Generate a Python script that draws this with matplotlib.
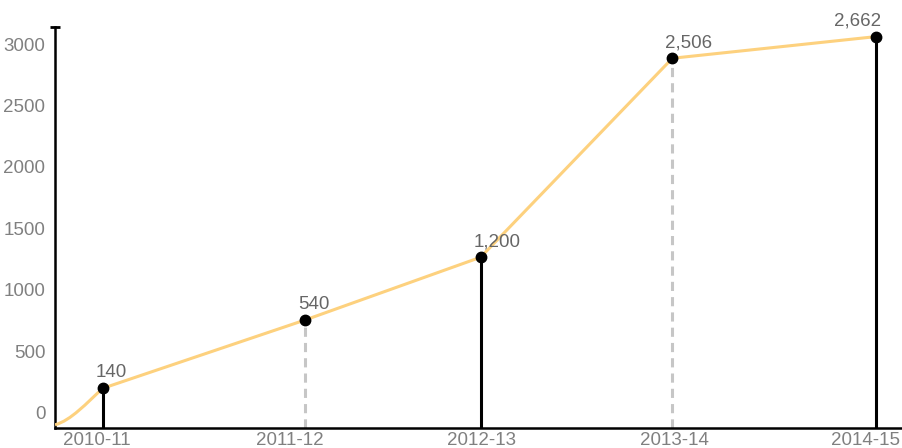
import matplotlib
matplotlib.use('Agg')
import matplotlib.pyplot as plt
from matplotlib.path import Path
from matplotlib.patches import PathPatch

# data (x in "years" from the first point, y)
years = ['2010-11', '2011-12', '2012-13', '2013-14', '2014-15']
point_x = [0.0, 1.0, 1.868, 2.816, 3.821]
point_y = [197, 753, 1264, 2884, 3060]
value_labels = ['140', '540', '1,200', '2,506', '2,662']
stem_dashed = [False, True, False, True, False]
tick_x = [-0.031, 0.926, 1.872, 2.824, 3.769]
start_x, start_y = -0.2358, -100

plt.rcParams['font.family'] = ['Liberation Sans', 'DejaVu Sans']


def line_path(x0, y0, xs, ys):
    # eased first segment (gentle start), straight segments after that
    chord = (ys[0] - y0) / (xs[0] - x0)
    dx = (xs[0] - x0) / 3
    verts = [(x0, y0), (x0 + dx, y0 + dx * 0.35 * chord),
             (xs[0] - dx, ys[0] - dx * 1.2 * chord), (xs[0], ys[0])]
    codes = [Path.MOVETO, Path.CURVE4, Path.CURVE4, Path.CURVE4]
    for x, y in zip(xs[1:], ys[1:]):
        verts.append((x, y))
        codes.append(Path.LINETO)
    return Path(verts, codes)


fig = plt.figure(figsize=(9.03, 4.48), dpi=100)
ax = fig.add_axes([55 / 903, 1 - 428 / 448, 848 / 903, 400.7 / 448])

ylo, yhi = -126, 3136
ax.set_xlim(-0.2358, 3.956)
ax.set_ylim(ylo, yhi)

# stems
for x, y, dashed in zip(point_x, point_y, stem_dashed):
    if dashed:
        ax.plot([x, x], [ylo, y], color='#c6c6c6', lw=2.2, dashes=(3, 2), zorder=2)
    else:
        ax.plot([x, x], [ylo, y], color='black', lw=2.2, zorder=2)

# line
path = line_path(start_x, start_y, point_x, point_y)
ax.add_patch(PathPatch(path, facecolor='none', edgecolor='#fdd17e', lw=2.2,
                       joinstyle='round', zorder=3))

ax.plot(point_x, point_y, 'o', color='black', ms=7.5, zorder=4)

for i, (x, y, lab) in enumerate(zip(point_x, point_y, value_labels)):
    dx = -7 if i < len(point_x) - 1 else -42
    ax.annotate(lab, (x, y), xytext=(dx, 11), textcoords='offset pixels',
                ha='left', va='baseline', fontsize=13.5, color='#666666')

# axes styling
for side in ['top', 'right']:
    ax.spines[side].set_visible(False)
for side in ['left', 'bottom']:
    ax.spines[side].set_linewidth(1.8)

ax.set_yticks(range(0, 3001, 500))
ax.set_xticks(tick_x, years)
ax.tick_params(axis='both', which='major', length=0, labelsize=13.5, labelcolor='#808080')
ax.tick_params(axis='y', pad=7)
ax.tick_params(axis='x', pad=3)
ax.set_yticks([yhi], minor=True)
ax.tick_params(axis='y', which='minor', length=7, width=2, direction='inout')

fig.savefig('out.png', dpi=100)
